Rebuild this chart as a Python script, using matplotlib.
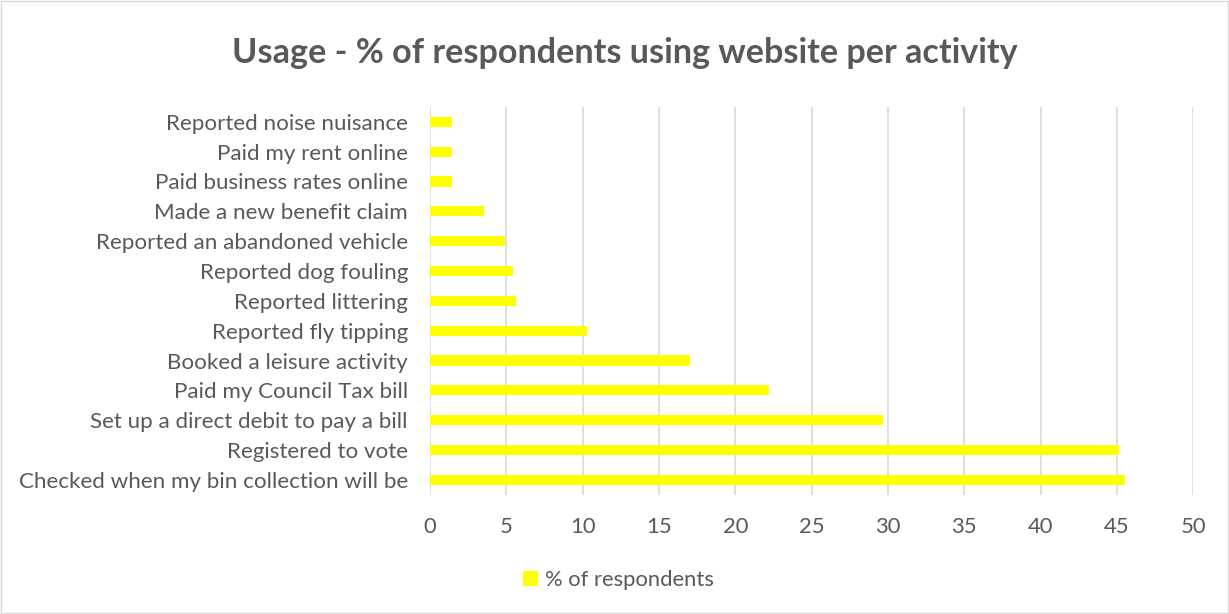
import numpy as np
import matplotlib.pyplot as plt
from matplotlib.patches import Rectangle

plt.rcParams['font.family'] = ['Lato', 'DejaVu Sans']

activities = ['Checked when my bin collection will be', 'Registered to vote',
              'Set up a direct debit to pay a bill', 'Paid my Council Tax bill',
              'Booked a leisure activity', 'Reported fly tipping', 'Reported littering',
              'Reported dog fouling', 'Reported an abandoned vehicle',
              'Made a new benefit claim', 'Paid business rates online',
              'Paid my rent online', 'Reported noise nuisance']
percent = [45.5, 45.1, 29.7, 22.2, 17.0, 10.3, 5.6, 5.4, 4.9, 3.5, 1.4, 1.4, 1.4]
xticks = [0, 5, 10, 15, 20, 25, 30, 35, 40, 45, 50]

grey = '#595959'
fig = plt.figure(figsize=(12.29, 6.14), dpi=100)
ax = fig.add_axes([0.35, 0.194, 0.621, 0.632])

y = np.arange(len(activities))
ax.barh(y, percent, height=0.34, color='#FFFF00', label='% of respondents', zorder=3)
ax.set_yticks(y)
ax.set_yticklabels(activities, fontsize=16.1, color=grey)
ax.set_ylim(-0.5, len(activities) - 0.5)
ax.set_xlim(0, 50)
ax.set_xticks(xticks)
ax.tick_params(axis='x', labelsize=15.8, labelcolor=grey, length=0, pad=16)
ax.tick_params(axis='y', length=0, pad=16)
ax.grid(axis='x', color='#D9D9D9', linewidth=1.2, zorder=0)
for s in ax.spines.values():
    s.set_visible(False)

fig.suptitle('Usage - % of respondents using website per activity', fontsize=24.6,
             fontweight='bold', color=grey, x=0.508, y=0.94)
fig.legend(loc='center', bbox_to_anchor=(0.503, 0.055), frameon=False, fontsize=15.8,
           handlelength=0.7, handleheight=0.7, handletextpad=0.3, labelcolor=grey)
fig.patches.append(Rectangle((0.001, 0.002), 0.998, 0.996, transform=fig.transFigure,
                             fill=False, edgecolor='#D9D9D9', linewidth=1))
fig.savefig('out.png', dpi=100)
